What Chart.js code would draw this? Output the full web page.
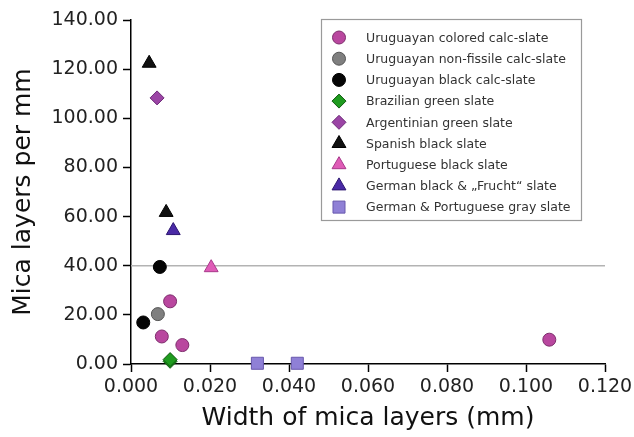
<!DOCTYPE html>
<html>
<head>
<meta charset="utf-8">
<script src="https://cdn.jsdelivr.net/npm/chart.js@4/dist/chart.umd.min.js"></script>
<style>
  html, body { margin: 0; padding: 0; background: #fff; }
  #wrap { width: 634px; height: 437px; position: relative; }
</style>
</head>
<body>
<div id="wrap"><canvas id="c" width="634" height="437"></canvas></div>
<script>
// Series: width of mica layers (mm) vs. mica layers per mm
const uruColoredX   = [0.0099, 0.0078, 0.0130, 0.1059];
const uruColoredY   = [25.5, 11.2, 7.7, 9.9];
const uruNonFissX   = [0.0068];
const uruNonFissY   = [20.3];
const uruBlackX     = [0.0031, 0.0073];
const uruBlackY     = [16.9, 39.5];
const brazilGreenX  = [0.0099, 0.0099];
const brazilGreenY  = [1.1, 1.8];
const argGreenX     = [0.0066];
const argGreenY     = [108.3];
const spanishX      = [0.0046, 0.0089];
const spanishY      = [122.4, 61.7];
const portBlackX    = [0.0203];
const portBlackY    = [39.2];
const germanBlackX  = [0.0107];
const germanBlackY  = [54.3];
const grayslateX    = [0.0320, 0.0421];
const grayslateY    = [0.3, 0.3];

const seriesNames = [
  'Uruguayan colored calc-slate',
  'Uruguayan non-fissile calc-slate',
  'Uruguayan black calc-slate',
  'Brazilian green slate',
  'Argentinian green slate',
  'Spanish black slate',
  'Portuguese black slate',
  'German black & \u201EFrucht\u201C slate',
  'German & Portuguese gray slate'
];

// Reference level drawn across the plot
const refLevel = 40;
const xTicks = [0, 0.02, 0.04, 0.06, 0.08, 0.10, 0.12];
const yTicks = [0, 20, 40, 60, 80, 100, 120, 140];

const pts = (xs, ys) => xs.map((x, i) => ({ x, y: ys[i] }));

const styles = [
  { pointStyle: 'circle',   r: 6.5, bg: '#b9479f', bd: '#7d2d6c' },
  { pointStyle: 'circle',   r: 6.5, bg: '#7f7f7f', bd: '#555555' },
  { pointStyle: 'circle',   r: 6.5, bg: '#050505', bd: '#000000' },
  { pointStyle: 'rectRot',  r: 7,   bg: '#1f9b1f', bd: '#0f5a0f' },
  { pointStyle: 'rectRot',  r: 7,   bg: '#9b45a5', bd: '#6d2a78' },
  { pointStyle: 'triangle', r: 8,   bg: '#111111', bd: '#000000' },
  { pointStyle: 'triangle', r: 8,   bg: '#df5cb7', bd: '#a8388a' },
  { pointStyle: 'triangle', r: 8,   bg: '#4a2aa6', bd: '#2c1670' },
  { pointStyle: 'rect',     r: 8.5, bg: '#8f80d6', bd: '#6858ad' }
];

const seriesData = [
  pts(uruColoredX, uruColoredY),
  pts(uruNonFissX, uruNonFissY),
  pts(uruBlackX, uruBlackY),
  pts(brazilGreenX, brazilGreenY),
  pts(argGreenX, argGreenY),
  pts(spanishX, spanishY),
  pts(portBlackX, portBlackY),
  pts(germanBlackX, germanBlackY),
  pts(grayslateX, grayslateY)
];

const datasets = seriesData.map((d, i) => ({
  label: seriesNames[i],
  data: d,
  showLine: false,
  clip: false,
  pointStyle: styles[i].pointStyle,
  pointRadius: styles[i].r,
  pointHoverRadius: styles[i].r,
  backgroundColor: styles[i].bg,
  borderColor: styles[i].bd,
  borderWidth: 1,
  order: 1
}));

datasets.unshift({
  label: 'ref',
  data: [{ x: xTicks[0], y: refLevel }, { x: xTicks[xTicks.length - 1], y: refLevel }],
  showLine: true,
  borderColor: '#b3b3b3',
  borderWidth: 1.5,
  pointRadius: 0,
  order: 2
});

const FONT = "'DejaVu Sans', sans-serif";

// Boxed legend inside the plot area
const boxLegend = {
  id: 'boxLegend',
  afterDraw(chart) {
    const ctx = chart.ctx;
    const bx = 321, by = 19, bw = 260, bh = 201;
    ctx.save();
    ctx.fillStyle = '#ffffff';
    ctx.fillRect(bx, by, bw, bh);
    ctx.strokeStyle = '#9a9a9a';
    ctx.lineWidth = 1.2;
    ctx.strokeRect(bx + 0.5, by + 0.5, bw, bh);
    ctx.font = '12.5px ' + FONT;
    ctx.textBaseline = 'middle';
    ctx.textAlign = 'left';
    for (let i = 0; i < seriesNames.length; i++) {
      const y = 37.5 + i * 21.2;
      const s = styles[i];
      ctx.fillStyle = s.bg;
      ctx.strokeStyle = s.bd;
      ctx.lineWidth = 1;
      Chart.helpers.drawPoint(ctx, { pointStyle: s.pointStyle, radius: s.r, rotation: 0, borderWidth: 1 }, 339, y);
      ctx.fillStyle = '#333333';
      ctx.fillText(seriesNames[i], 366, y + 1);
    }
    ctx.restore();
  }
};

new Chart(document.getElementById('c'), {
  type: 'scatter',
  data: { datasets },
  options: {
    responsive: false,
    animation: false,
    events: [],
    layout: { padding: { top: 20, right: 29, left: 0, bottom: 0 } },
    plugins: { legend: { display: false }, tooltip: { enabled: false } },
    scales: {
      x: {
        type: 'linear',
        min: xTicks[0],
        max: xTicks[xTicks.length - 1],
        afterFit(s) { s.height = 73; s.paddingLeft = 0; s.paddingRight = 0; },
        afterBuildTicks(s) { s.ticks = xTicks.map(v => ({ value: v })); },
        ticks: {
          callback: v => Number(v).toFixed(3),
          font: { family: FONT, size: 19 },
          color: '#222222',
          padding: 4,
          maxRotation: 0
        },
        grid: { drawOnChartArea: false, drawTicks: true, tickLength: 8, tickColor: '#000', tickWidth: 1.5 },
        border: { display: true, color: '#000', width: 1.5 },
        title: {
          display: true,
          text: 'Width of mica layers (mm)',
          font: { family: FONT, size: 25 },
          color: '#111111',
          padding: { top: 4, bottom: 4 }
        }
      },
      y: {
        type: 'linear',
        min: yTicks[0],
        max: yTicks[yTicks.length - 1],
        afterFit(s) { s.width = 131; s.paddingTop = 0; s.paddingBottom = 0; },
        afterBuildTicks(s) { s.ticks = yTicks.map(v => ({ value: v })); },
        ticks: {
          callback: v => Number(v).toFixed(2),
          font: { family: FONT, size: 19 },
          color: '#222222',
          padding: 5
        },
        grid: { drawOnChartArea: false, drawTicks: true, tickLength: 8, tickColor: '#000', tickWidth: 1.5 },
        border: { display: true, color: '#000', width: 1.5 },
        title: {
          display: true,
          text: 'Mica layers per mm',
          font: { family: FONT, size: 25 },
          color: '#111111',
          padding: { top: 8, bottom: 4 }
        }
      }
    }
  },
  plugins: [boxLegend]
});
</script>
</body>
</html>
